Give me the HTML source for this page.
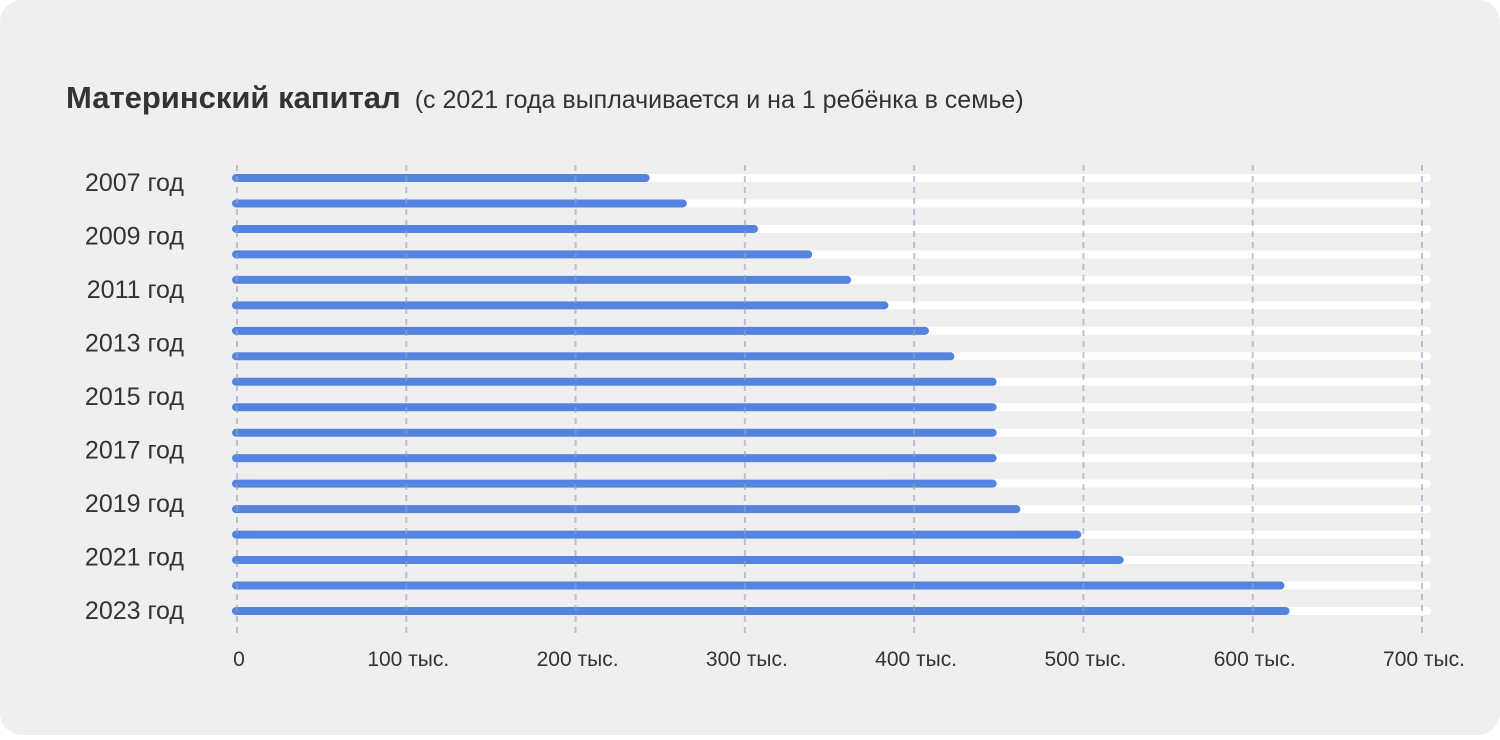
<!DOCTYPE html>
<html><head><meta charset="utf-8"><style>
html,body{margin:0;padding:0;background:#fff;}
body{width:1500px;height:735px;overflow:hidden;font-family:"Liberation Sans",sans-serif;}
.card{position:absolute;left:0;top:0;width:1500px;height:735px;background:#efefef;border-radius:22px;}
</style></head><body>
<div class="card">
<svg width="1500" height="735">
<text x="66" y="108" font-size="31" font-weight="bold" fill="#333">Материнский капитал<tspan font-weight="normal" font-size="25" dx="14">(с 2021 года выплачивается и на 1 ребёнка в семье)</tspan></text>
<g id="tracks"></g><g id="bars"></g><g id="grid"></g><g id="ylabels"></g><g id="xlabels"></g>
</svg></div>
<script>
const years=[2007,2008,2009,2010,2011,2012,2013,2014,2015,2016,2017,2018,2019,2020,2021,2022,2023,2024];
const values=[242,264,306,338,361,383,407,422,447,447,447,447,447,461,497,522,617,620];
const labelYears=["2007 год","2009 год","2011 год","2013 год","2015 год","2017 год","2019 год","2021 год","2023 год"];
const ticks=[0,100,200,300,400,500,600,700];
const tickLabels=["0","100 тыс.","200 тыс.","300 тыс.","400 тыс.","500 тыс.","600 тыс.","700 тыс."];
const NS="http://www.w3.org/2000/svg";
const x=v=>236+v*(1421-236)/700;
const yBar=i=>178+i*25.47;
const yLab=i=>182+i*53.5;
function mk(t,a,p){const e=document.createElementNS(NS,t);for(const k in a)e.setAttribute(k,a[k]);document.getElementById(p).appendChild(e);return e;}
years.forEach((yr,i)=>{
 const t=mk('line',{x1:x(0),x2:1427,y1:yBar(i),y2:yBar(i),stroke:'#fff','stroke-width':8,'stroke-linecap':'round'},'tracks');
 
 
 const b=mk('line',{x1:x(0),x2:x(values[i]),y1:yBar(i),y2:yBar(i),stroke:'#5584e0','stroke-width':8,'stroke-linecap':'round'},'bars');
 
 
});
ticks.forEach((v,i)=>{
 const g=mk('line',{x1:x(v)+1,x2:x(v)+1,y1:165,y2:636,stroke:'#9aa0b8','stroke-opacity':0.6,'stroke-width':2,'stroke-dasharray':'6 5'},'grid');
 
 
 const t=mk('text',{x:x(v)+3,y:666,'font-size':21,fill:'#333','text-anchor':'middle'},'xlabels');
 t.textContent=tickLabels[i];
 
 
});
labelYears.forEach((s,i)=>{
 const t=mk('text',{x:184,y:yLab(i)+9,'font-size':25,fill:'#333','text-anchor':'end'},'ylabels');
 t.textContent=s;
 
 
});
</script>
</body></html>
